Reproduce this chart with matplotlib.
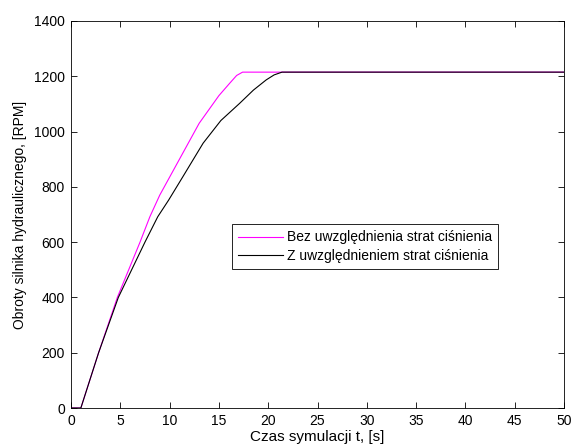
import matplotlib
matplotlib.use("Agg")
import matplotlib.pyplot as plt

plt.rcParams['font.family'] = ['Liberation Sans', 'DejaVu Sans']

# Data
t_bez = [0, 1.0, 2.8, 4.7, 7.0, 8.0, 9.0, 11.0, 13.0, 15.0, 16.1, 16.8, 17.4, 50]
v_bez = [0, 0, 200, 400, 600, 692, 770, 900, 1030, 1130, 1175, 1203, 1215, 1215]
t_z = [0, 1.0, 2.8, 4.8, 7.5, 8.8, 9.9, 11.35, 13.4, 15.2, 17.1, 18.5, 19.8, 20.6, 21.4, 50]
v_z = [0, 0, 200, 400, 600, 692, 752, 837, 958, 1040, 1102, 1150, 1187, 1205, 1215, 1215]
labels = ["Bez uwzględnienia strat ciśnienia", "Z uwzględnieniem strat ciśnienia"]
xticks = [0, 5, 10, 15, 20, 25, 30, 35, 40, 45, 50]
yticks = [0, 200, 400, 600, 800, 1000, 1200, 1400]

fig = plt.figure(figsize=(5.72, 4.48), dpi=100)
ax = fig.add_axes([71/572, (448-408)/448, (564-71)/572, (408-21)/448])

ax.plot(t_bez, v_bez, color='#ff00ff', lw=0.8, label=labels[0])
ax.plot(t_z, v_z, color='black', lw=0.8, label=labels[1])

ax.set_xlim(0, 50)
ax.set_ylim(0, 1400)
ax.set_xticks(xticks)
ax.set_yticks(yticks)
ax.tick_params(direction='in', length=4, width=0.6, top=True, right=True, labelsize=10, pad=4.5)
for s in ax.spines.values():
    s.set_linewidth(0.6)

ax.set_xlabel("Czas symulacji t, [s]", fontsize=11, labelpad=1.5)
ax.set_ylabel("Obroty silnika hydraulicznego, [RPM]", fontsize=10, labelpad=5)

leg = ax.legend(loc='upper left', bbox_to_anchor=(0.327, 0.475), borderaxespad=0,
                fontsize=10, fancybox=False, framealpha=1, edgecolor='black',
                handlelength=3.2, handletextpad=0.3, labelspacing=0.3, borderpad=0.45)
leg.get_frame().set_linewidth(0.6)

fig.savefig("out.png", dpi=100)
